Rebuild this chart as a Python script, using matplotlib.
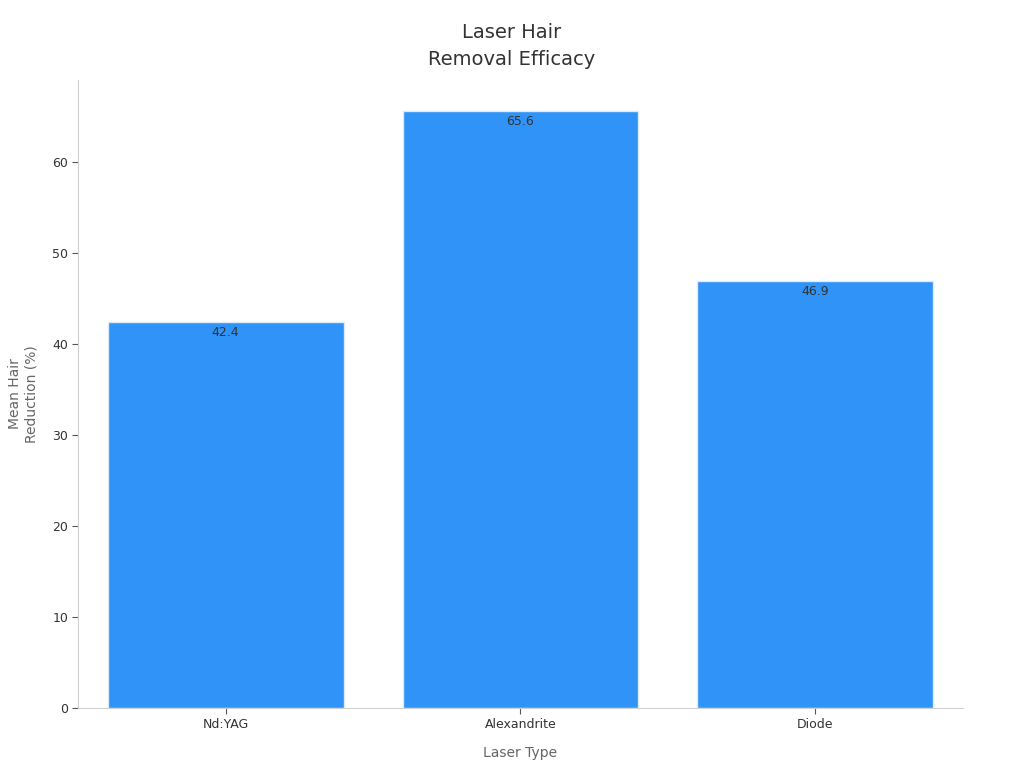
import matplotlib
matplotlib.use("Agg")
import matplotlib.pyplot as plt

# data
lasers = ["Nd:YAG", "Alexandrite", "Diode"]
reduction = [42.4, 65.6, 46.9]

fig = plt.figure(figsize=(10.24, 7.68), dpi=100)
ax = fig.add_axes([0.0762, 0.078, 0.8642, 0.8178])

bars = ax.bar(lasers, reduction, width=0.8, color="#2F93F8",
              edgecolor="#DCEBFA", linewidth=1)

for b, v in zip(bars, reduction):
    ax.annotate(f"{v}", (b.get_x() + b.get_width() / 2, v),
                xytext=(0, -3), textcoords="offset points",
                ha="center", va="top", fontsize=9, color="#333333")

ax.set_xlim(-0.5, 2.5)
ax.set_ylim(0, 69)
ax.set_yticks([0, 10, 20, 30, 40, 50, 60])

fig.text(0.5, 0.940, "Laser Hair\nRemoval Efficacy", fontsize=14, color="#333333",
         ha="center", va="center", linespacing=1.5)
ax.set_xlabel("Laser Type", fontsize=10, color="#666666", labelpad=11)
ax.set_ylabel("Mean Hair\nReduction (%)", fontsize=10, color="#666666", labelpad=10)

for side in ["top", "right"]:
    ax.spines[side].set_visible(False)
for side in ["left", "bottom"]:
    ax.spines[side].set_color("#D0D0D0")
ax.tick_params(axis="both", labelsize=9, colors="#333333", length=4, pad=3)
ax.tick_params(axis="both", color="#555555")

fig.savefig("out.png", dpi=100)
